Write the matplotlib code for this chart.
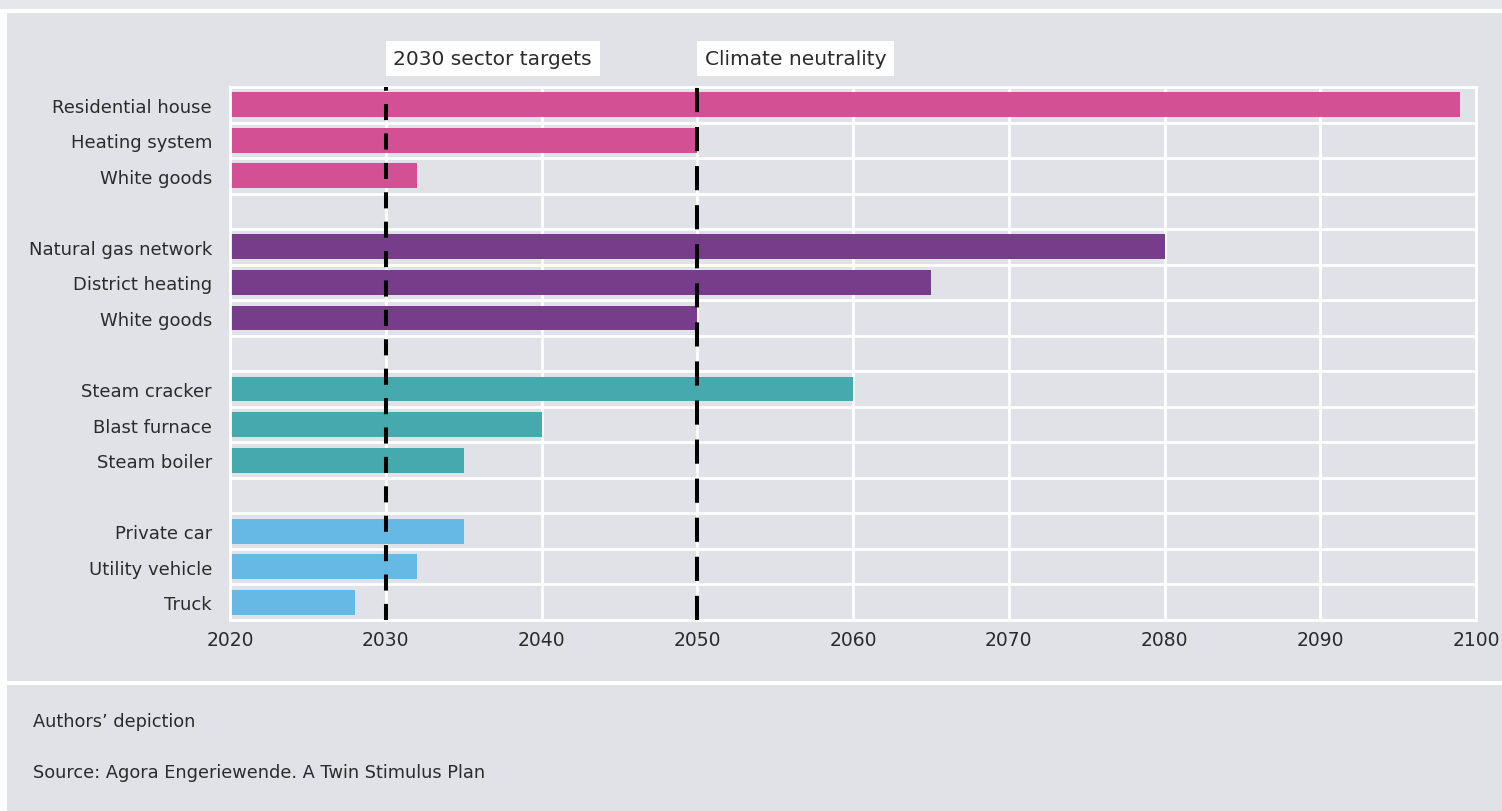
import matplotlib
matplotlib.use("Agg")
import matplotlib.pyplot as plt
from matplotlib.patches import Rectangle

plt.rcParams['font.family'] = ['DejaVu Sans']

# ---- data ----
groups = ["Buildings", "Heat", "Industry", "Transport"]
labels_buildings = ["Residential house", "Heating system", "White goods"]
values_buildings = [2099, 2050, 2032]
labels_heat = ["Natural gas network", "District heating", "White goods"]
values_heat = [2080, 2065, 2050]
labels_industry = ["Steam cracker", "Blast furnace", "Steam boiler"]
values_industry = [2060, 2040, 2035]
labels_transport = ["Private car", "Utility vehicle", "Truck"]
values_transport = [2035, 2032, 2028]
group_colors = ["#D35095", "#773C8A", "#45A9AE", "#67B9E5"]
x_start = 2020
x_ticks = [2020, 2030, 2040, 2050, 2060, 2070, 2080, 2090, 2100]
marker_years = [2030, 2050]
marker_labels = ["2030 sector targets", "Climate neutrality"]
footer_lines = ["Authors\u2019 depiction", "Source: Agora Engeriewende. A Twin Stimulus Plan"]

BG = "#E1E2E7"
TXT = "#2b2b2b"

fig = plt.figure(figsize=(15.02, 8.12), dpi=100, facecolor=BG)
W, H = 1502, 812

# background decorations
fig.patches.append(Rectangle((0, 1 - 10 / H), 1, 10 / H, transform=fig.transFigure,
                             facecolor="#E6E7EB", edgecolor="none", zorder=0))
fig.patches.append(Rectangle((0, 1 - 14 / H), 1, 4 / H, transform=fig.transFigure,
                             facecolor="white", edgecolor="none", zorder=0))
fig.patches.append(Rectangle((0, 0), 7 / W, 1 - 10 / H, transform=fig.transFigure,
                             facecolor="white", edgecolor="none", zorder=0))
fig.patches.append(Rectangle((7 / W, 1 - 686 / H), 1, 4 / H, transform=fig.transFigure,
                             facecolor="white", edgecolor="none", zorder=0))

ax = fig.add_axes([230 / W, 1 - 621 / H, (1476 - 230) / W, (621 - 88) / H])
ax.set_facecolor(BG)

all_labels, all_values, all_colors = [], [], []
group_data = [(labels_buildings, values_buildings), (labels_heat, values_heat),
              (labels_industry, values_industry), (labels_transport, values_transport)]
for gi, (labs, vals) in enumerate(group_data):
    if gi > 0:
        all_labels.append("")
        all_values.append(None)
        all_colors.append(None)
    all_labels.extend(labs)
    all_values.extend(vals)
    all_colors.extend([group_colors[gi]] * len(labs))

n = len(all_labels)
ypos = list(range(n))
for y, v, c in zip(ypos, all_values, all_colors):
    if v is None:
        continue
    ax.barh(y, v - x_start, left=x_start, height=0.7, color=c, zorder=2)

ax.set_ylim(n - 0.5, -0.5)
ax.set_xlim(2020, 2100)
ax.set_yticks(ypos)
ax.set_yticklabels(all_labels, fontsize=13, color=TXT)
ax.set_yticks([i - 0.5 for i in range(n + 1)], minor=True)
ax.set_xticks(x_ticks)
ax.set_xticklabels([str(t) for t in x_ticks], fontsize=13.5, color=TXT)
ax.tick_params(axis='y', which='both', length=0, pad=13)
ax.tick_params(axis='x', which='both', length=0, pad=7)
ax.grid(axis='y', which='minor', color='white', linewidth=2, zorder=1)
ax.grid(axis='x', which='major', color='white', linewidth=2, zorder=1)
ax.grid(axis='y', which='major', visible=False)
for s in ax.spines.values():
    s.set_color('white')
    s.set_linewidth(2)

# dashed marker lines
dash_styles = [(0, (4.0, 3.3)), (0, (6.0, 3.7))]
for yr, ds in zip(marker_years, dash_styles):
    ax.axvline(yr, color='black', linewidth=2.9, linestyle=ds, zorder=4)

# labels above marker lines
for yr, txt in zip(marker_years, marker_labels):
    ax.annotate(txt, xy=(yr, 0), xycoords=('data', 'axes fraction'),
                xytext=(5.5, 1.0 - (59.5 - 88) / (621 - 88)), textcoords=('offset points', 'axes fraction'),
                ha='left', va='center', fontsize=14.5, color=TXT,
                bbox=dict(boxstyle='square,pad=0.38', facecolor='white', edgecolor='none'),
                annotation_clip=False)

fig.text(33 / W, 1 - 722 / H, footer_lines[0], fontsize=12.8, color=TXT, va='center', ha='left')
fig.text(33 / W, 1 - 773 / H, footer_lines[1], fontsize=12.8, color=TXT, va='center', ha='left')

fig.savefig("out.png", dpi=100, facecolor=fig.get_facecolor())
